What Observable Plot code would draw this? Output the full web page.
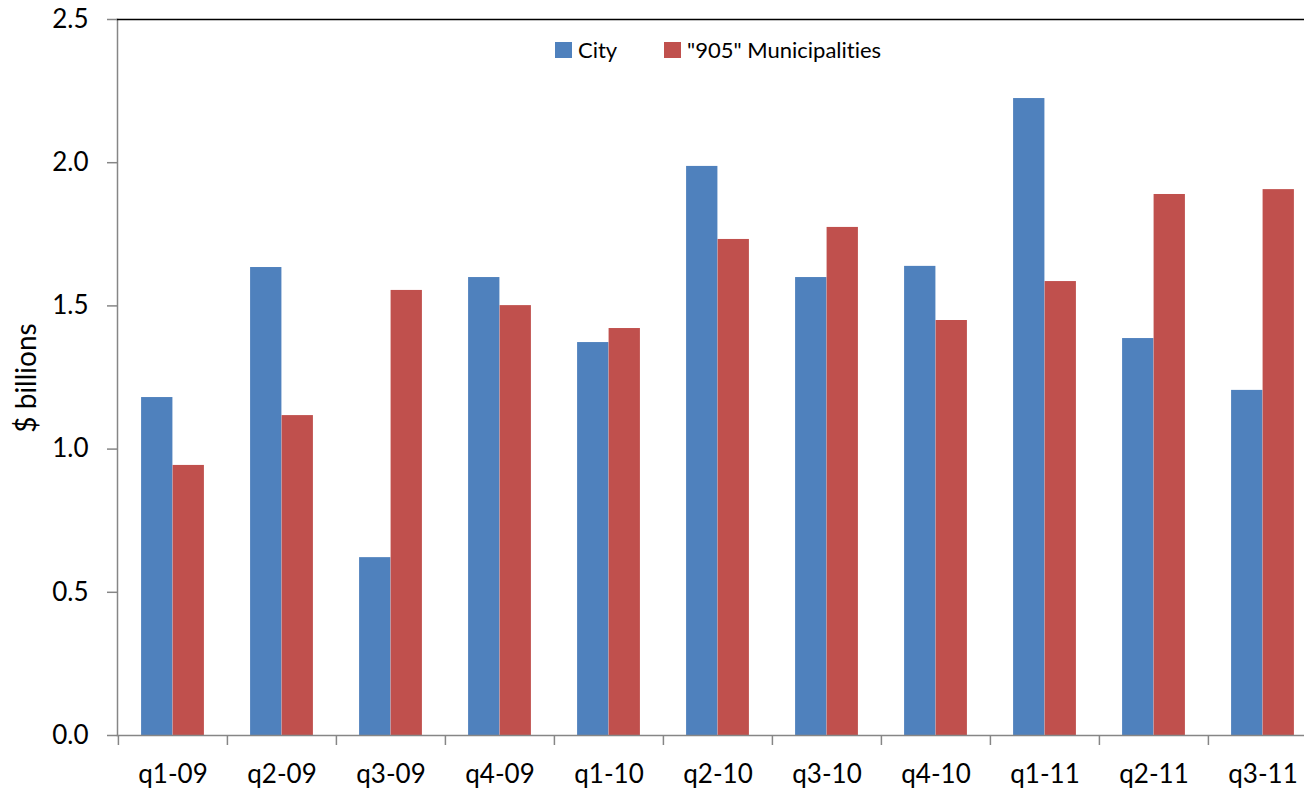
<!DOCTYPE html>
<html>
<head>
<meta charset="utf-8">
<script src="https://cdn.jsdelivr.net/npm/d3@7"></script>
<script src="https://cdn.jsdelivr.net/npm/@observablehq/plot@0.6"></script>
<style>
  html, body { margin: 0; padding: 0; background: #fff; overflow: hidden; }
  #wrap { position: relative; width: 1320px; height: 794px; font-family: Lato, "Open Sans", sans-serif; font-variant-ligatures: none; }
  .leg { position: absolute; top: 36px; display: flex; align-items: center; font-size: 22px; color: #000; white-space: nowrap; font-variant-ligatures: none; }
  .sw { width: 17px; height: 16px; margin-right: 6px; }
  #ylab { position: absolute; left: 25px; top: 378px; transform: translate(-50%, -50%) rotate(-90deg); font-size: 28px; white-space: nowrap; }
</style>
</head>
<body>
<div id="wrap"></div>
<script>
const quarters = ["q1-09","q2-09","q3-09","q4-09","q1-10","q2-10","q3-10","q4-10","q1-11","q2-11","q3-11"];
const cityValues = [1.18, 1.634, 0.621, 1.599, 1.372, 1.987, 1.599, 1.638, 2.224, 1.386, 1.205];
const muniValues = [0.943, 1.117, 1.554, 1.501, 1.421, 1.732, 1.774, 1.449, 1.585, 1.889, 1.906];
const seriesNames = ["City", "\"905\" Municipalities"];
const seriesColors = ["#4F81BD", "#C0504D"];
const yTicks = [0, 0.5, 1.0, 1.5, 2.0, 2.5];

const cityData = quarters.map((q, i) => ({quarter: q, value: cityValues[i]}));
const muniData = quarters.map((q, i) => ({quarter: q, value: muniValues[i]}));

const width = 1320, height = 794;
const marginLeft = 117, marginRight = 2, marginTop = 19, marginBottom = 59;
const bw = (width - marginLeft - marginRight) / quarters.length;
const barW = 31.5;
const outer = (bw - 2 * barW) / 2;

const chart = Plot.plot({
  width, height, marginLeft, marginRight, marginTop, marginBottom,
  style: {fontFamily: "Lato, 'Open Sans', sans-serif", fontSize: "26px", color: "#000", background: "#fff"},
  x: {type: "band", domain: quarters, padding: 0},
  y: {domain: [0, 2.5]},
  marks: [
    Plot.barY(cityData, {x: "quarter", y: "value", fill: seriesColors[0], insetLeft: outer, insetRight: outer + barW}),
    Plot.barY(muniData, {x: "quarter", y: "value", fill: seriesColors[1], insetLeft: outer + barW, insetRight: outer}),
    Plot.frame({anchor: "left", stroke: "#868686", strokeWidth: 1.5, strokeOpacity: 1}),
    Plot.frame({anchor: "bottom", stroke: "#868686", strokeWidth: 1.5, strokeOpacity: 1}),
    Plot.frame({anchor: "top", stroke: "#000", strokeWidth: 1.5, strokeOpacity: 1}),
    Plot.axisY({ticks: yTicks, tickFormat: d3.format(".1f"), tickSize: 10, tickPadding: 19, stroke: "#868686", strokeOpacity: 1, strokeWidth: 1.5, fill: "#000", label: null}),
    Plot.axisX({tickSize: 10, dx: -bw / 2, tickFormat: () => "", stroke: "#868686", strokeOpacity: 1, strokeWidth: 1.5, label: null}),
    Plot.axisX({tickSize: 0, tickPadding: 29, fill: "#000", label: null})
  ]
});

const wrap = document.getElementById("wrap");
wrap.appendChild(chart);

const legPos = [555, 664];
seriesNames.forEach((name, i) => {
  const item = document.createElement("div");
  item.className = "leg";
  item.style.left = legPos[i] + "px";
  const sw = document.createElement("span");
  sw.className = "sw";
  sw.style.background = seriesColors[i];
  const t = document.createElement("span");
  t.textContent = name;
  item.appendChild(sw);
  item.appendChild(t);
  wrap.appendChild(item);
});

const ylab = document.createElement("div");
ylab.id = "ylab";
ylab.textContent = "$ billions";
wrap.appendChild(ylab);
</script>
</body>
</html>
